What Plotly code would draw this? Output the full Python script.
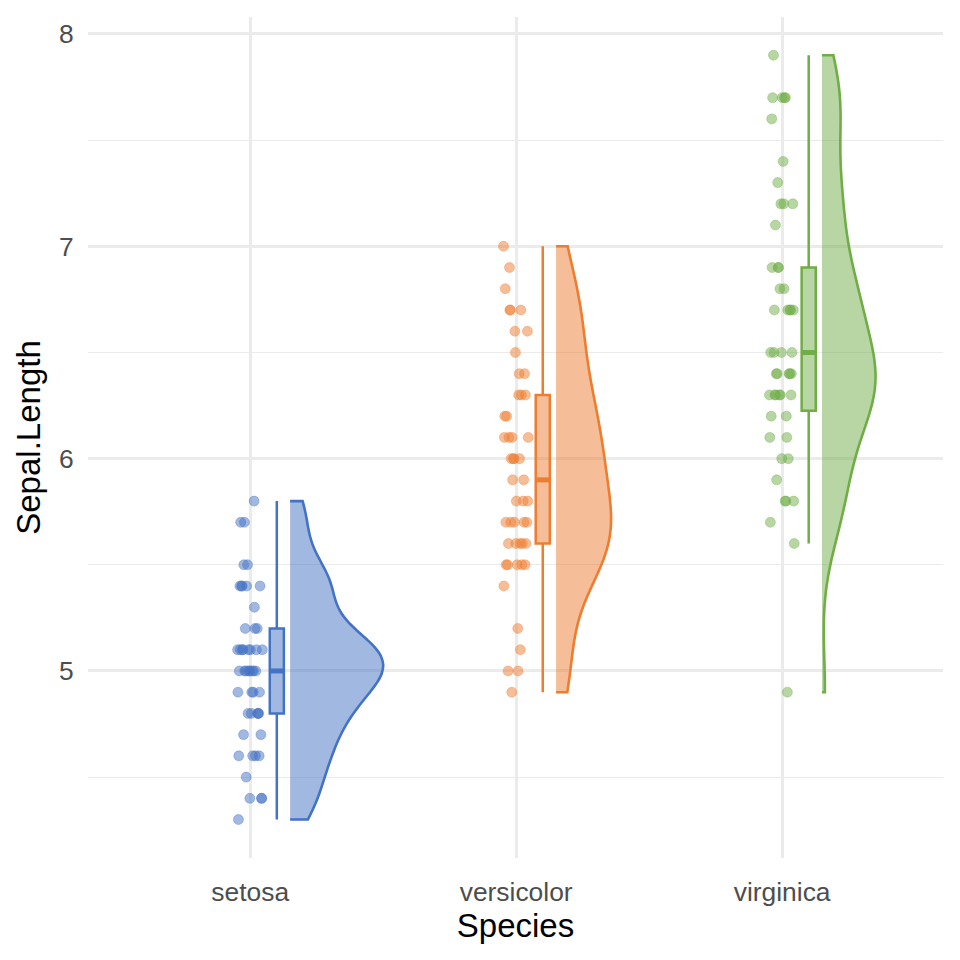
import numpy as np
import plotly.graph_objects as go

species = ["setosa", "versicolor", "virginica"]
setosa = [5.1,4.9,4.7,4.6,5.0,5.4,4.6,5.0,4.4,4.9,5.4,4.8,4.8,4.3,5.8,5.7,5.4,5.1,5.7,5.1,
          5.4,5.1,4.6,5.1,4.8,5.0,5.0,5.2,5.2,4.7,4.8,5.4,5.2,5.5,4.9,5.0,5.5,4.9,4.4,5.1,
          5.0,4.5,4.4,5.0,5.1,4.8,5.1,4.6,5.3,5.0]
versicolor = [7.0,6.4,6.9,5.5,6.5,5.7,6.3,4.9,6.6,5.2,5.0,5.9,6.0,6.1,5.6,6.7,5.6,5.8,6.2,5.6,
              5.9,6.1,6.3,6.1,6.4,6.6,6.8,6.7,6.0,5.7,5.5,5.5,5.8,6.0,5.4,6.0,6.7,6.3,5.6,5.5,
              5.5,6.1,5.8,5.0,5.6,5.7,5.7,6.2,5.1,5.7]
virginica = [6.3,5.8,7.1,6.3,6.5,7.6,4.9,7.3,6.7,7.2,6.5,6.4,6.8,5.7,5.8,6.4,6.5,7.7,7.7,6.0,
             6.9,5.6,7.7,6.3,6.7,7.2,6.2,6.1,6.4,7.2,7.4,7.9,6.4,6.3,6.1,7.7,6.3,6.4,6.0,6.9,
             6.7,6.9,5.8,6.8,6.7,6.7,6.3,6.5,6.2,5.9]
groups = [setosa, versicolor, virginica]

line_colors = ["#4472C4", "#ED7D31", "#70AD47"]
fill_colors = ["rgba(68,114,196,0.5)", "rgba(237,125,49,0.5)", "rgba(112,173,71,0.5)"]
edge_colors = ["rgba(68,114,196,0.35)", "rgba(237,125,49,0.35)", "rgba(112,173,71,0.35)"]

FONT = "Liberation Sans, Arial, sans-serif"


def nrd0(v):
    v = np.asarray(v, float)
    sd = v.std(ddof=1)
    iqr = np.subtract(*np.percentile(v, [75, 25]))
    return 0.9 * min(sd, iqr / 1.34) * len(v) ** -0.2


def peak_density(v, bw):
    v = np.asarray(v, float)
    grid = np.linspace(v.min(), v.max(), 512)
    d = np.exp(-0.5 * ((grid[:, None] - v[None, :]) / bw) ** 2).sum(1) / (len(v) * bw * np.sqrt(2 * np.pi))
    return d.max()


bws = [nrd0(g) for g in groups]
peaks = [peak_density(g, b) for g, b in zip(groups, bws)]
max_peak = max(peaks)

fig = go.Figure()
box_w = 0.053
for i, (name, vals) in enumerate(zip(species, groups)):
    pos = i + 1
    n = len(vals)
    arr = np.asarray(vals, float)
    # deterministic jitter
    jit = [((k * 0.6180339887) % 1.0 - 0.5) * 0.095 for k in range(n)]
    fig.add_trace(go.Scatter(
        x=[pos + j for j in jit], y=vals, mode="markers",
        marker=dict(size=10, color=fill_colors[i], line=dict(width=1, color=edge_colors[i])),
        showlegend=False, hoverinfo="skip"))
    q1, med, q3 = np.percentile(arr, [25, 50, 75])
    iqr = q3 - q1
    lo = arr[arr >= q1 - 1.5 * iqr].min()
    hi = arr[arr <= q3 + 1.5 * iqr].max()
    fig.add_trace(go.Box(
        x=[pos + 0.10], q1=[q1], median=[med], q3=[q3], lowerfence=[lo], upperfence=[hi],
        width=box_w, whiskerwidth=0,
        line=dict(color=line_colors[i], width=2.5), fillcolor=fill_colors[i],
        showlegend=False, hoverinfo="skip"))
    fig.add_trace(go.Scatter(
        x=[pos + 0.10 - box_w / 2, pos + 0.10 + box_w / 2], y=[med, med], mode="lines",
        line=dict(color=line_colors[i], width=5), showlegend=False, hoverinfo="skip"))
    fig.add_trace(go.Violin(
        x=[pos + 0.15] * n, y=vals, side="positive", width=2 * 0.35 * peaks[i] / max_peak,
        bandwidth=bws[i], spanmode="hard", points=False,
        box=dict(visible=False), meanline=dict(visible=False),
        line=dict(color=line_colors[i], width=2.6), fillcolor=fill_colors[i],
        showlegend=False, hoverinfo="skip"))

fig.update_layout(
    width=960, height=960,
    margin=dict(l=88, r=17, t=17, b=102),
    plot_bgcolor="white", paper_bgcolor="white",
    violinmode="overlay", boxmode="overlay",
    showlegend=False,
    font=dict(family=FONT),
)
fig.update_xaxes(
    range=[0.39, 3.605], tickvals=[1, 2, 3], ticktext=species,
    showgrid=True, gridcolor="#EBEBEB", gridwidth=2.5, zeroline=False, showline=False,
    ticks="outside", ticklen=10, tickcolor="rgba(0,0,0,0)",
    tickfont=dict(size=26.4, color="#4D4D4D", family=FONT),
    title=dict(text="Species", font=dict(size=33, color="black", family=FONT), standoff=6),
)
fig.update_yaxes(
    range=[4.119, 8.08], tickvals=[5, 6, 7, 8], ticktext=["5", "6", "7", "8"],
    showgrid=True, gridcolor="#EBEBEB", gridwidth=2.5, zeroline=False, showline=False,
    ticks="outside", ticklen=8, tickcolor="rgba(0,0,0,0)",
    tickfont=dict(size=26.4, color="#4D4D4D", family=FONT),
    minor=dict(tickvals=[4.5, 5.5, 6.5, 7.5], showgrid=True, gridcolor="#EBEBEB", gridwidth=1.2, ticks=""),
    title=dict(text="Sepal.Length", font=dict(size=33, color="black", family=FONT), standoff=8),
)
fig.write_html("out.html")
